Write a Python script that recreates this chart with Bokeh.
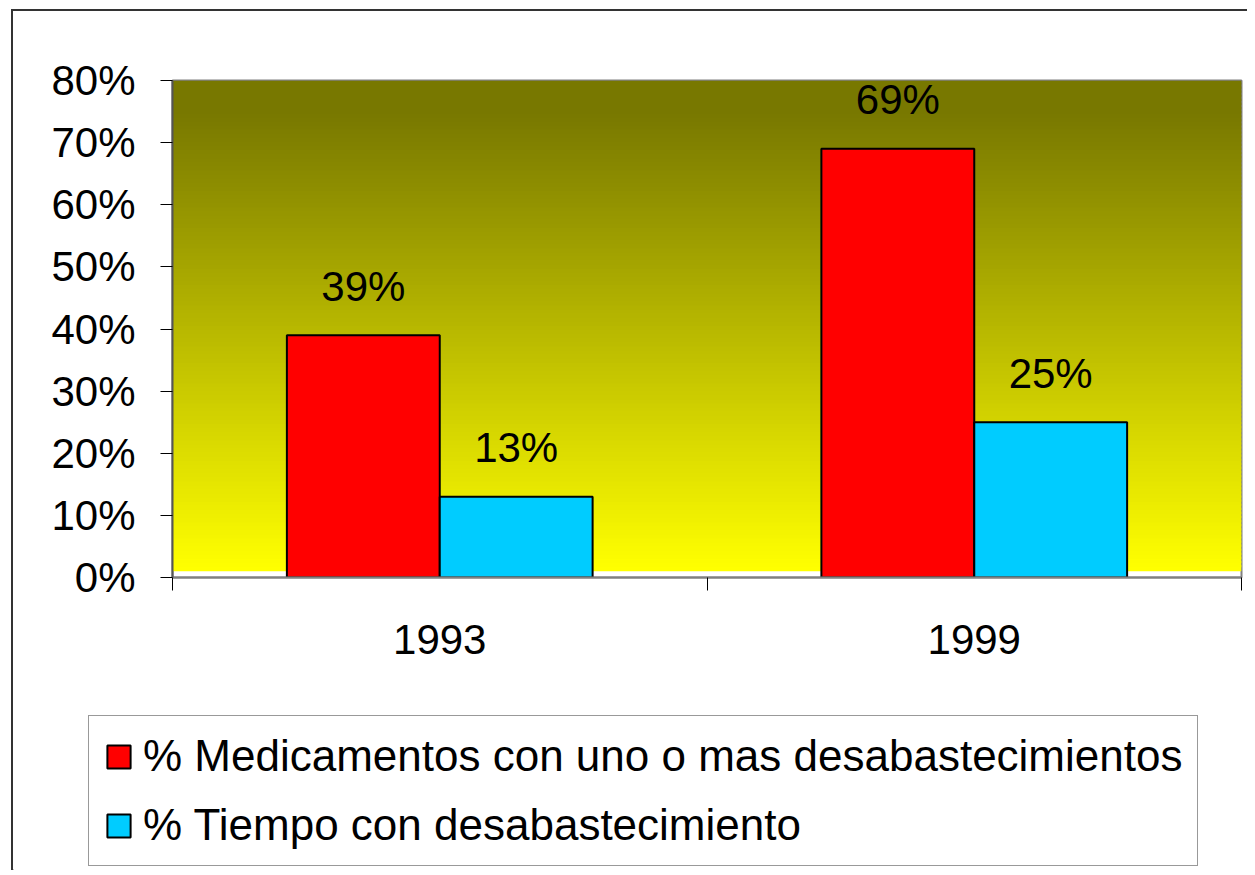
import numpy as np
from bokeh.plotting import figure
from bokeh.layouts import column
from bokeh.models import (Range1d, FixedTicker, PrintfTickFormatter, Legend, LegendItem,
                          ColumnDataSource)
from bokeh.core.properties import value
from bokeh.embed import file_html
from bokeh.resources import INLINE

# ---- data ----
years = ["1993", "1999"]
medicamentos = [39, 69]   # % Medicamentos con uno o mas desabastecimientos
tiempo = [13, 25]         # % Tiempo con desabastecimiento
series_names = ["% Medicamentos con uno o mas desabastecimientos",
                "% Tiempo con desabastecimiento"]
series_colors = ["#ff0000", "#00ccff"]
y_ticks = [0, 10, 20, 30, 40, 50, 60, 70, 80]

FONT = "Liberation Sans"
FS = "42px"
LFS = "44px"

p = figure(output_backend="svg", toolbar_location=None,
           frame_width=1069, frame_height=497,
           min_border_left=159, min_border_top=69, min_border_right=6, min_border_bottom=123,
           x_range=Range1d(0, len(years)), y_range=Range1d(0, 80))
p.frame_align = False
p.background_fill_color = "white"
p.border_fill_color = "white"
p.outline_line_color = "#808080"
p.outline_line_width = 2
p.grid.visible = False

# gradient background (olive at top -> yellow at bottom)
n = 120
edges = np.linspace(1.0, 80.0, n + 1)
top_c = np.array([0x78, 0x78, 0x00])
bot_c = np.array([0xff, 0xff, 0x00])
cols = []
for i in range(n):
    t = (edges[i] - 1.0) / 79.0
    t = min(1.0, t / 0.93)
    c = bot_c + (top_c - bot_c) * t
    cols.append("#%02x%02x%02x" % tuple(int(round(v)) for v in c))
tops = np.minimum(edges[1:] + 0.35, 80.0)
p.quad(left=0, right=len(years), bottom=edges[:-1], top=tops,
       fill_color=cols, line_color=None)

# bars
idx = np.arange(len(years))
w = 0.286
off = 0.143
src = ColumnDataSource(dict(xr=idx + 0.5 - off, xb=idx + 0.5 + off,
                            med=medicamentos, tie=tiempo,
                            lm=[f"{v}%" for v in medicamentos],
                            lt=[f"{v}%" for v in tiempo]))
p.vbar(x="xr", top="med", bottom=0, width=w, source=src,
       fill_color=series_colors[0], line_color="black", line_width=2)
p.vbar(x="xb", top="tie", bottom=0, width=w, source=src,
       fill_color=series_colors[1], line_color="black", line_width=2)

for xcol, ycol, tcol in (("xr", "med", "lm"), ("xb", "tie", "lt")):
    p.text(x=xcol, y=ycol, text=tcol, source=src, text_align="center",
           text_baseline="alphabetic", y_offset=-49,
           text_font=value(FONT), text_font_size=FS, text_color="black")

# axes
ya = p.yaxis[0]
ya.ticker = FixedTicker(ticks=y_ticks)
ya.formatter = PrintfTickFormatter(format="%d%%")
ya.major_label_text_font = FONT
ya.major_label_text_font_size = FS
ya.major_label_text_color = "black"
ya.major_tick_out = 12
ya.major_tick_in = 0
ya.minor_tick_out = 0
ya.minor_tick_in = 0
ya.major_tick_line_color = "black"
ya.axis_line_color = "#555555"
ya.axis_line_width = 2
ya.major_label_standoff = 25

xa = p.xaxis[0]
xa.ticker = FixedTicker(ticks=list(idx + 0.5), minor_ticks=list(range(len(years) + 1)))
xa.major_label_overrides = {float(i + 0.5): y for i, y in enumerate(years)}
xa.major_label_text_font = FONT
xa.major_label_text_font_size = FS
xa.major_label_text_color = "black"
xa.major_tick_out = 0
xa.major_tick_in = 0
xa.minor_tick_out = 13
xa.minor_tick_in = 0
xa.minor_tick_line_color = "black"
xa.axis_line_color = "#808080"
xa.axis_line_width = 2
xa.major_label_standoff = 34

# legend figure (below the chart)
lf = figure(output_backend="svg", toolbar_location=None,
            width=1234, height=170, min_border=0,
            x_range=Range1d(0, 1), y_range=Range1d(0, 1),
            x_axis_type=None, y_axis_type=None)
lf.frame_align = False
lf.outline_line_color = None
lf.grid.visible = False
lf.background_fill_color = "white"
lf.border_fill_color = "white"
lr = []
for c in series_colors:
    # invisible proxy renderers (outside the view) so the legend can draw its swatches
    lr.append(lf.vbar(x=[-5.0], top=[0.0], width=0.1, fill_color=c,
                      line_color="black", line_width=2))
legend = Legend(items=[LegendItem(label=series_names[i], renderers=[lr[i]])
                       for i in range(len(series_names))],
                location=(75, 4),
                label_text_font=FONT, label_text_font_size=LFS, label_text_color="black",
                glyph_width=29, glyph_height=29, label_standoff=10,
                padding=15, spacing=19, margin=0,
                border_line_color="#333333", border_line_width=1,
                background_fill_color="white", background_fill_alpha=1.0)
lf.add_layout(legend, "center")

layout = column(p, lf, spacing=0,
                styles={"border-top": "2px solid #333333",
                        "border-left": "2px solid #333333",
                        "margin-left": "11px", "margin-top": "9px"})

open("out.html", "w").write(file_html(layout, INLINE))
